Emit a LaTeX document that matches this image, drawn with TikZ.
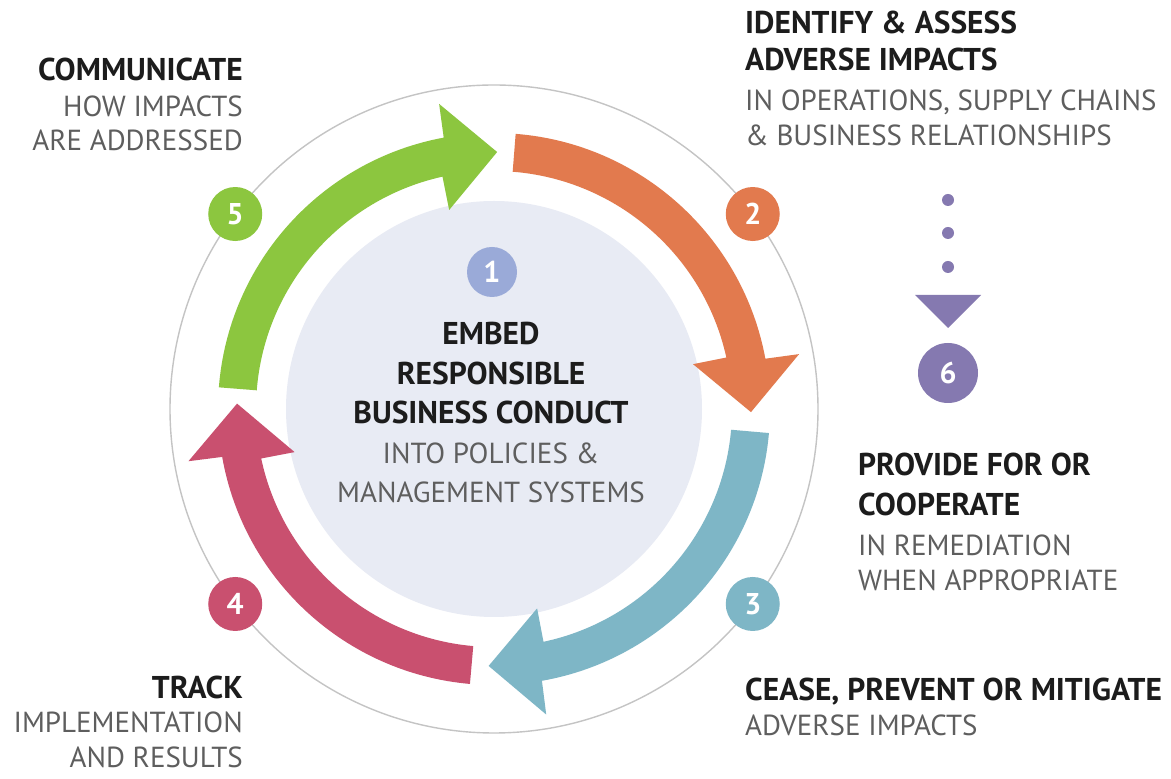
\documentclass[tikz,border=0pt]{standalone}
\usepackage{fontspec}
\setmainfont{PT Sans}
\definecolor{cgreen}{HTML}{8CC63F}
\definecolor{corange}{HTML}{E27A4E}
\definecolor{cblue}{HTML}{7EB6C6}
\definecolor{cred}{HTML}{C9506F}
\definecolor{cpurpleA}{HTML}{9AAAD8}
\definecolor{cpurpleB}{HTML}{8579B0}
\definecolor{cinner}{HTML}{E8EBF4}
\definecolor{cring}{HTML}{C4C4C4}
\definecolor{chead}{HTML}{1C1C1C}
\definecolor{csub}{HTML}{5E5E5E}
\tikzset{
  numc/.style={circle, minimum size=54pt, inner sep=0pt, text=white,
    font=\fontsize{30}{30}\selectfont\bfseries},
  headtxt/.style={inner sep=0pt, text=chead, font=\fontsize{31.5}{31.5}\selectfont\bfseries},
  subtxt/.style={inner sep=0pt, text=csub, font=\fontsize{29}{29}\selectfont},
  dotc/.style={circle, fill=cpurpleB, minimum size=12pt, inner sep=0pt},
}
\newcommand{\cyclearrow}[2]{%
  \fill[#2] (#1:276) arc[start angle=#1, end angle=#1-75, radius=276]
    -- (#1-75.3:310) -- (#1-86.2:257) -- (#1-72.8:204) -- (#1-73:238)
    arc[start angle=#1-73, end angle=#1, radius=238] -- cycle;}
\begin{document}
\begin{tikzpicture}[x=1pt,y=1pt]
\useasboundingbox (0,0) rectangle (1171,779);
\fill[white] (0,0) rectangle (1171,779);
\coordinate (C) at (494,370);
\draw[cring, line width=1.4pt] (C) circle (324);
\fill[cinner] (C) circle (208);
\begin{scope}[shift={(C)}]
  \cyclearrow{175.5}{cgreen}
  \cyclearrow{85.5}{corange}
  \cyclearrow{-5}{cblue}
  \cyclearrow{-95}{cred}
  \node[numc, fill=cgreen] (n5) at (143:324) {5};
  \node[numc, fill=corange] (n2) at (37:324) {2};
  \node[numc, fill=cblue] (n3) at (-37:324) {3};
  \node[numc, fill=cred] (n4) at (-143:324) {4};
\end{scope}
\node[numc, fill=cpurpleA, minimum size=50pt] (n1) at (492,507) {1};
% step 6
\node[dotc] (d1) at (948,579) {};
\node[dotc] (d2) at (948,546) {};
\node[dotc] (d3) at (948,512) {};
\fill[cpurpleB] (915,484) -- (981,484) -- (948,451) -- cycle;
\node[numc, fill=cpurpleB, minimum size=60pt] (n6) at (948,406) {6};
% center text
\node[headtxt, anchor=base] (c1) at (491,434) {EMBED};
\node[headtxt, anchor=base] (c2) at (491,394) {RESPONSIBLE};
\node[headtxt, anchor=base] (c3) at (491,355) {BUSINESS CONDUCT};
\node[subtxt, anchor=base] (c4) at (491,315) {INTO POLICIES \&};
\node[subtxt, anchor=base] (c5) at (491,276) {MANAGEMENT SYSTEMS};
% communicate
\node[headtxt, anchor=base east] (a1) at (243,698) {COMMUNICATE};
\node[subtxt, anchor=base east] (a2) at (243,662) {HOW IMPACTS};
\node[subtxt, anchor=base east] (a3) at (243,628) {ARE ADDRESSED};
% identify
\node[headtxt, anchor=base west] (b1) at (745,745) {IDENTIFY \& ASSESS};
\node[headtxt, anchor=base west] (b2) at (745,708) {ADVERSE IMPACTS};
\node[subtxt, anchor=base west] (b3) at (745,668) {IN OPERATIONS, SUPPLY CHAINS};
\node[subtxt, anchor=base west] (b4) at (745,633) {\& BUSINESS RELATIONSHIPS};
% provide
\node[headtxt, anchor=base west] (p1) at (858,303) {PROVIDE FOR OR};
\node[headtxt, anchor=base west] (p2) at (858,263) {COOPERATE};
\node[subtxt, anchor=base west] (p3) at (858,223) {IN REMEDIATION};
\node[subtxt, anchor=base west] (p4) at (858,188) {WHEN APPROPRIATE};
% cease
\node[headtxt, anchor=base west] (e1) at (745,78) {CEASE, PREVENT OR MITIGATE};
\node[subtxt, anchor=base west] (e2) at (745,43) {ADVERSE IMPACTS};
% track
\node[headtxt, anchor=base east] (r1) at (243,80) {TRACK};
\node[subtxt, anchor=base east] (r2) at (243,46) {IMPLEMENTATION};
\node[subtxt, anchor=base east] (r3) at (243,11) {AND RESULTS};
\end{tikzpicture}
\end{document}
